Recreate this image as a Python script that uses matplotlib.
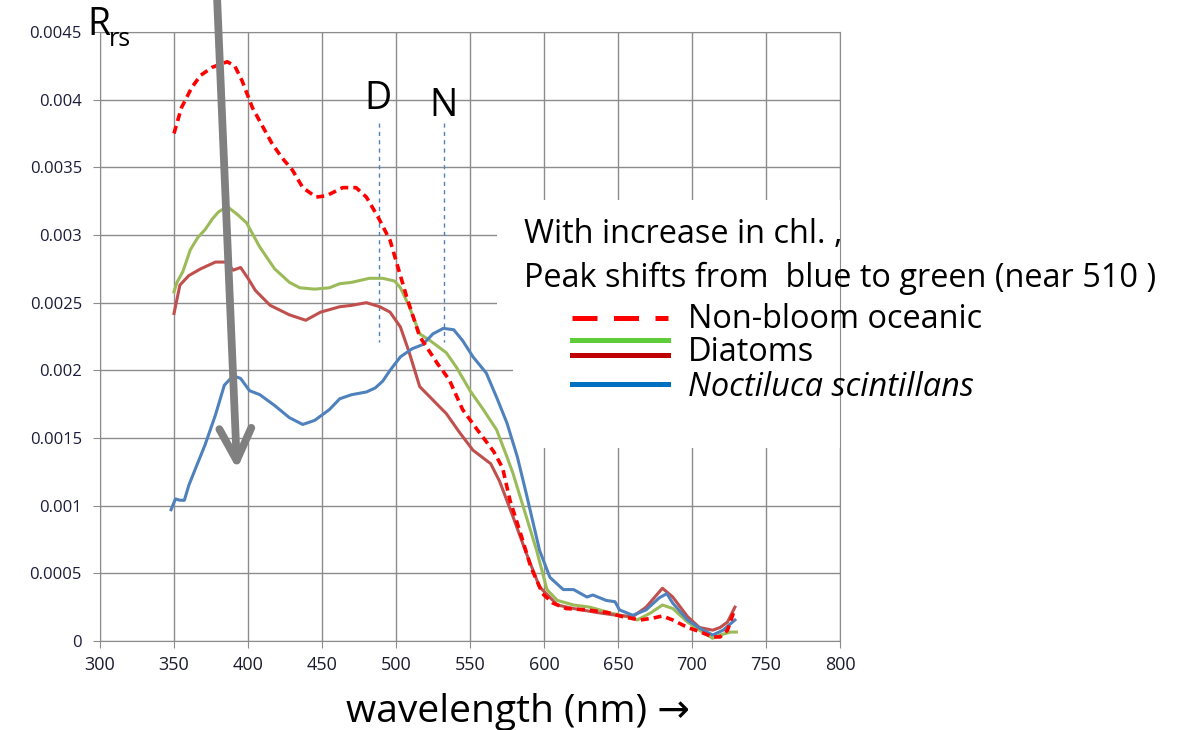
import matplotlib
matplotlib.use('Agg')
import matplotlib.pyplot as plt
from matplotlib.lines import Line2D
from matplotlib.patches import Rectangle

plt.rcParams['font.family'] = ['Open Sans', 'DejaVu Sans']

# Rrs curves, values in units of 1e-4
nb_nm = [350, 355, 362, 368, 376, 386, 391, 396, 403, 410, 416, 423, 430, 437, 446, 453, 464, 473, 480, 488,
         496, 507, 516, 528, 536, 545, 555, 566, 572, 577, 584, 591, 599, 606, 615, 629, 643, 653, 665, 674,
         680, 687, 697, 705, 714, 719, 724, 729]
nb_val = [37.5, 39.4, 40.9, 41.8, 42.4, 42.8, 42.5, 41.4, 39.4, 38.0, 36.8, 35.7, 34.8, 33.5, 32.8, 32.9, 33.5,
          33.5, 32.8, 31.3, 29.6, 25.5, 22.5, 20.5, 19.3, 17.1, 15.6, 14.0, 12.8, 10.4, 8.0, 5.5, 3.5, 2.8, 2.4,
          2.3, 2.1, 1.8, 1.55, 1.7, 1.85, 1.55, 1.0, 0.7, 0.3, 0.3, 0.8, 2.4]

dg_nm = [350, 352, 356, 361, 366, 371, 376, 380, 386, 393, 399, 408, 418, 428, 435, 445, 455, 462, 470, 482,
         491, 499, 503, 509, 516, 523, 534, 541, 550, 559, 568, 575, 579, 588, 595, 602, 609, 620, 631, 645,
         656, 663, 672, 680, 687, 697, 705, 714, 719, 726, 730]
dg_val = [25.8, 26.5, 27.3, 28.9, 29.8, 30.4, 31.2, 31.7, 32.1, 31.5, 30.9, 29.1, 27.5, 26.5, 26.1, 26.0, 26.1,
          26.4, 26.5, 26.8, 26.8, 26.6, 26.1, 24.7, 22.7, 22.2, 21.3, 20.2, 18.5, 17.1, 15.6, 13.6, 12.4, 9.2,
          6.7, 3.8, 3.0, 2.66, 2.5, 2.07, 1.8, 1.55, 2.07, 2.66, 2.4, 1.4, 0.8, 0.2, 0.44, 0.66, 0.66]

dr_nm = [350, 354, 360, 368, 378, 385, 390, 395, 400, 405, 415, 428, 439, 449, 462, 470, 480, 489, 496, 503,
         509, 516, 525, 534, 543, 552, 564, 570, 579, 588, 597, 609, 620, 636, 649, 660, 669, 680, 687, 697,
         705, 714, 719, 724, 729]
dr_val = [24.2, 26.3, 27.0, 27.5, 28.0, 28.0, 27.4, 27.6, 26.8, 25.9, 24.8, 24.1, 23.7, 24.3, 24.7, 24.8, 25.0,
          24.7, 24.3, 23.2, 21.3, 18.8, 17.8, 16.8, 15.4, 14.1, 13.1, 11.8, 9.2, 6.5, 4.0, 2.66, 2.4, 2.1, 1.9,
          1.8, 2.5, 3.9, 3.25, 1.8, 1.0, 0.8, 1.0, 1.4, 2.5]

ns_nm = [348, 351, 354, 357, 360, 364, 371, 378, 384, 390, 395, 401, 408, 418, 428, 437, 445, 455, 462, 470,
         480, 486, 491, 496, 503, 511, 518, 525, 532, 539, 545, 552, 561, 568, 575, 582, 588, 597, 604, 613,
         620, 629, 633, 642, 648, 651, 660, 669, 678, 683, 687, 697, 705, 714, 721, 729]
ns_val = [9.7, 10.5, 10.4, 10.4, 11.5, 12.6, 14.5, 16.7, 18.9, 19.6, 19.4, 18.5, 18.2, 17.4, 16.5, 16.0, 16.3,
          17.1, 17.9, 18.2, 18.4, 18.7, 19.2, 20.0, 21.0, 21.6, 21.9, 22.7, 23.1, 23.0, 22.2, 21.0, 19.8, 18.0,
          16.1, 13.6, 10.9, 6.7, 4.7, 3.8, 3.8, 3.25, 3.4, 3.0, 2.9, 2.3, 1.9, 2.3, 3.2, 3.5, 2.8, 1.55, 0.96,
          0.44, 0.8, 1.55]

xticks = [300, 350, 400, 450, 500, 550, 600, 650, 700, 750, 800]
yticks = [0, 0.0005, 0.001, 0.0015, 0.002, 0.0025, 0.003, 0.0035, 0.004, 0.0045]
ylabels = ['0', '0.0005', '0.001', '0.0015', '0.002', '0.0025', '0.003', '0.0035', '0.004', '0.0045']
legend_labels = ['Non-bloom oceanic', 'Diatoms', 'Noctiluca scintillans']

W, H = 1186, 730


def fx(x):
    return x / W


def fy(y):
    return 1 - y / H


fig = plt.figure(figsize=(W / 100, H / 100), dpi=100)
ax = fig.add_axes([fx(100), fy(641), fx(840) - fx(100), fy(32) - fy(641)])
ax.set_xlim(300, 800)
ax.set_ylim(0, 0.0045)
ax.set_xticks(xticks)
ax.set_yticks(yticks)
ax.set_yticklabels(ylabels)
ax.set_axisbelow(True)
ax.grid(True, color='#8c8c8c', lw=1.0)
for s in ax.spines.values():
    s.set_color('#8c8c8c')
ax.tick_params(axis='x', color='#8c8c8c', labelcolor='#1c1c30', length=5, pad=6, labelsize=13)
ax.tick_params(axis='y', color='#8c8c8c', labelcolor='#1c1c3a', length=5, pad=8, labelsize=12)

# white box behind the text block hides the grid there
ax.add_patch(Rectangle((568, 0.00222), 232, 0.00104, color='white', zorder=1, lw=0))
ax.add_patch(Rectangle((579, 0.001425), 221, 0.0008, color='white', zorder=1, lw=0))

s = 1e-4
ax.plot(dg_nm, [v * s for v in dg_val], color='#9bbb59', lw=2.2, zorder=3)
ax.plot(dr_nm, [v * s for v in dr_val], color='#c0504d', lw=2.2, zorder=3)
ax.plot(ns_nm, [v * s for v in ns_val], color='#4f81bd', lw=2.2, zorder=3)
ax.plot(nb_nm, [v * s for v in nb_val], color='#ff0000', lw=2.6, ls=(0, (2.2, 1.4)), zorder=4)

# D and N marker lines
for x0, lab in [(488.5, 'D'), (532.4, 'N')]:
    ax.plot([x0, x0], [0.00383, 0.00221], color='#4f81bd', lw=1, ls=(0, (3, 3)), zorder=2)
ax.text(488, 0.00393, 'D', fontsize=27, ha='center', va='baseline')
ax.text(532, 0.00388, 'N', fontsize=27, ha='center', va='baseline')

# big gray arrow
ax.annotate('', xy=(392.6, 0.00127), xytext=(379, 0.00478),
            arrowprops=dict(arrowstyle='->,head_length=2.3,head_width=1.15', color='#808080', lw=5.6,
                            shrinkA=0, shrinkB=0),
            annotation_clip=False, zorder=6)

fig.text(fx(87), fy(35), 'R', fontsize=27, va='baseline')
fig.text(fx(109), fy(46), 'rs', fontsize=18, va='baseline')

fig.canvas.draw()
r = fig.canvas.get_renderer()


def fit(t, width):
    w = t.get_window_extent(r).width
    t.set_fontsize(t.get_fontsize() * width / w)


t1 = fig.text(fx(524), fy(243), 'With increase in chl. ,', fontsize=20, va='baseline')
t2 = fig.text(fx(524), fy(287), 'Peak shifts from  blue to green (near 510 )', fontsize=20, va='baseline')
fit(t2, 634)
t1.set_fontsize(t2.get_fontsize())
fs = t2.get_fontsize()

fig.text(fx(688), fy(328), legend_labels[0], fontsize=fs, va='baseline')
fig.text(fx(688), fy(361), legend_labels[1], fontsize=fs, va='baseline')
fig.text(fx(688), fy(396), legend_labels[2], fontsize=fs, va='baseline', style='italic')

fig.add_artist(Line2D([fx(572), fx(668)], [fy(318)] * 2, color='#ff0000', lw=3.6, ls=(0, (5, 3.3))))
fig.add_artist(Line2D([fx(572), fx(668)], [fy(340)] * 2, color='#5fcc3a', lw=3.6))
fig.add_artist(Line2D([fx(572), fx(668)], [fy(355)] * 2, color='#c00000', lw=3.6))
fig.add_artist(Line2D([fx(572), fx(668)], [fy(384)] * 2, color='#0070c0', lw=3.6))

xl = fig.text(fx(346), fy(722), 'wavelength (nm) \u2192', fontsize=22, va='baseline')
fit(xl, 344)

fig.savefig('out.png', dpi=100, facecolor='white')
